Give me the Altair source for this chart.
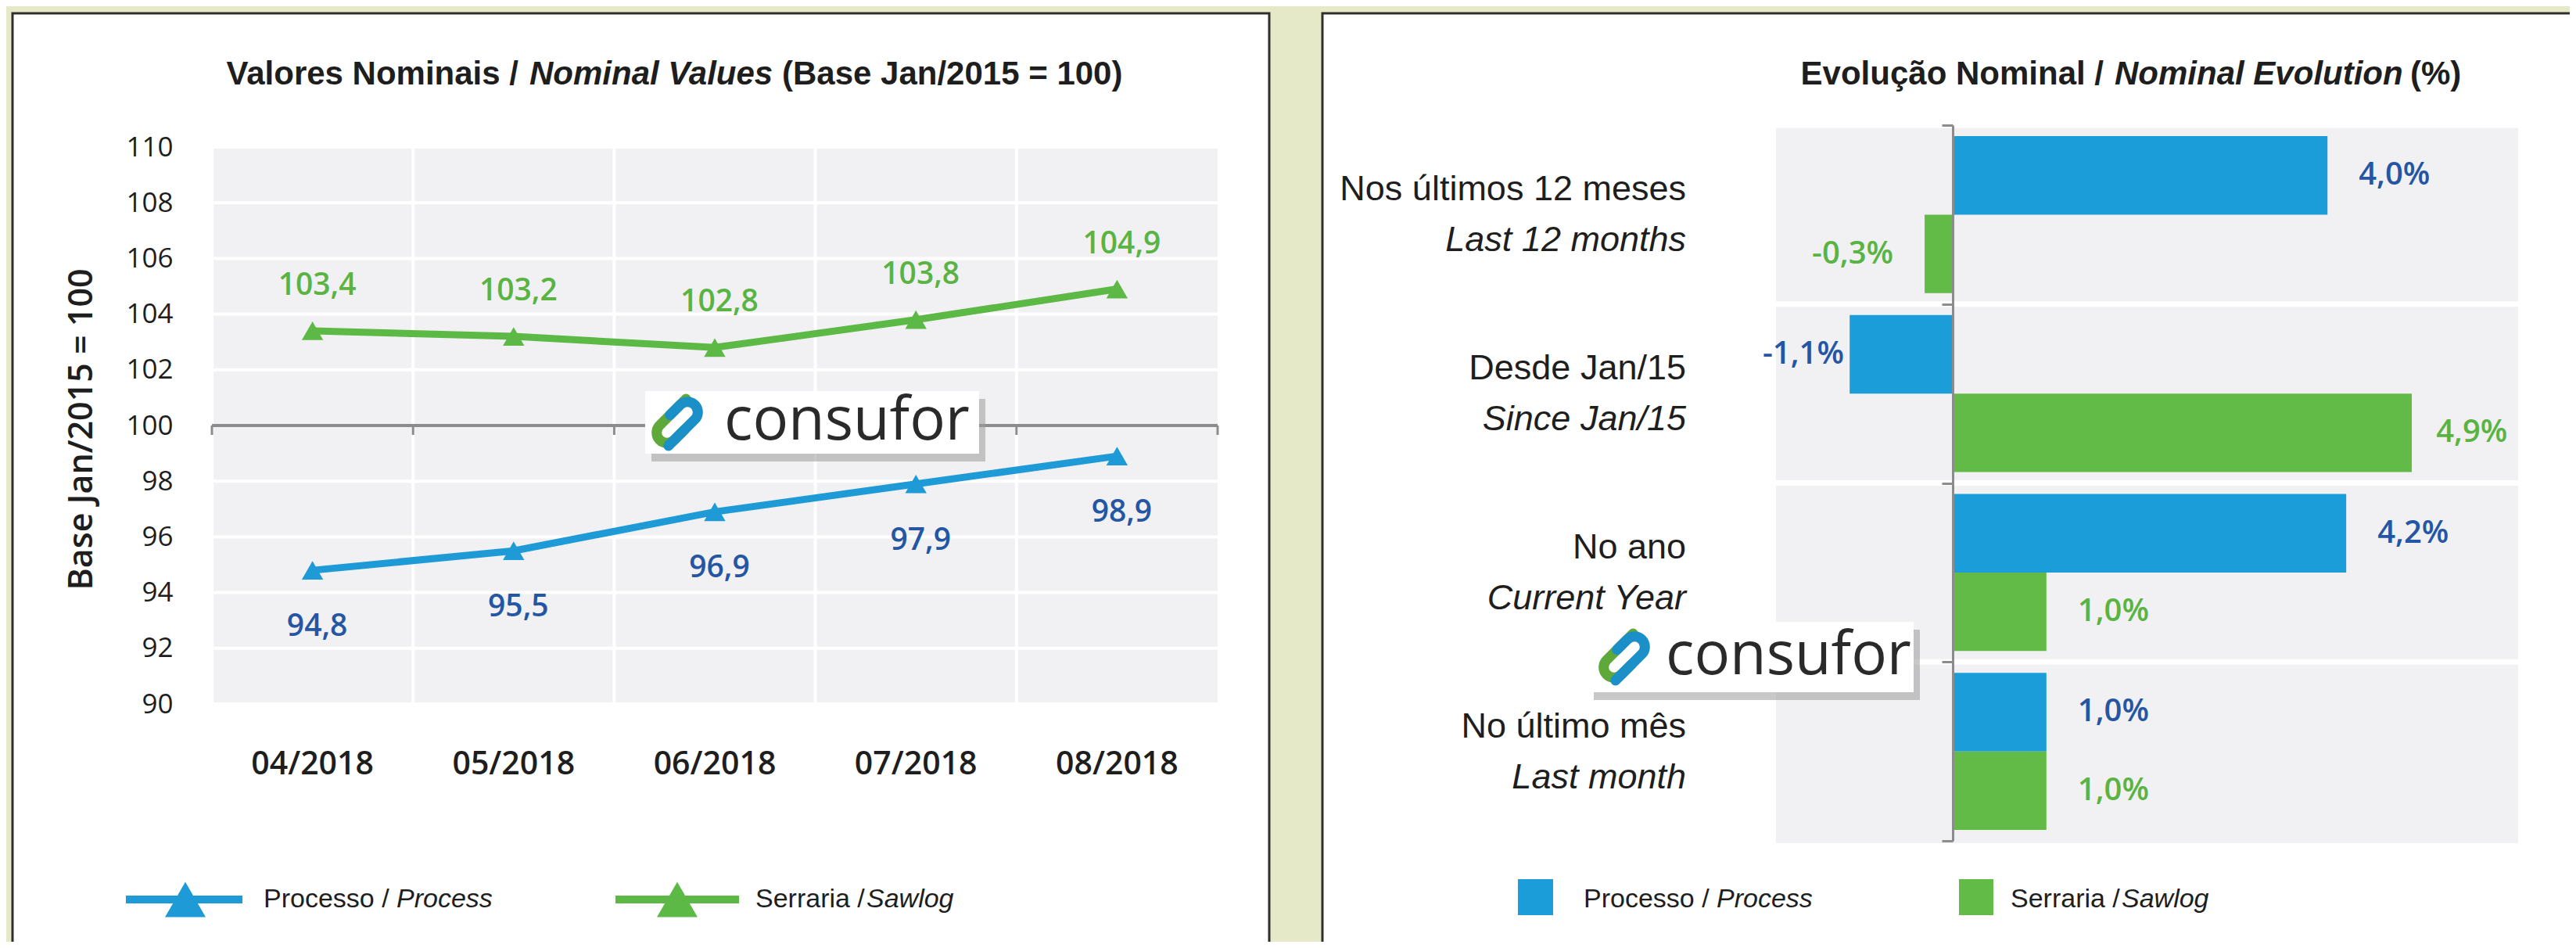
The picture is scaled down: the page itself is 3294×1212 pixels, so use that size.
import altair as alt
import pandas as pd

# ---------------- data ----------------
months = ["04/2018", "05/2018", "06/2018", "07/2018", "08/2018"]
process_index = [94.8, 95.5, 96.9, 97.9, 98.9]
sawlog_index = [103.4, 103.2, 102.8, 103.8, 104.9]
index_ticks = [90, 92, 94, 96, 98, 100, 102, 104, 106, 108, 110]
index_base = [100]

periods_pt = ["Nos últimos 12 meses", "Desde Jan/15", "No ano", "No último mês"]
periods_en = ["Last 12 months", "Since Jan/15", "Current Year", "Last month"]
process_pct = [4.0, -1.1, 4.2, 1.0]
sawlog_pct = [-0.3, 4.9, 1.0, 1.0]

series = ["Processo", "Serraria"]


def br(v, suffix=""):
    return f"{v:.1f}".replace(".", ",") + suffix


line_df = pd.DataFrame({
    "month": months * 2,
    "value": process_index + sawlog_index,
    "series": [series[0]] * len(months) + [series[1]] * len(months),
})
line_df["label"] = [br(v) for v in line_df["value"]]

bar_df = pd.DataFrame({
    "period": periods_pt * 2,
    "pct": process_pct + sawlog_pct,
    "series": [series[0]] * len(periods_pt) + [series[1]] * len(periods_pt),
})
bar_df["label"] = [br(v, "%") for v in bar_df["pct"]]

period_df = pd.DataFrame({"period": periods_pt, "en": periods_en})
tick_df = pd.DataFrame({"t": index_ticks})
base_df = pd.DataFrame({"b": index_base})
month_df = pd.DataFrame({"month": months})
one = pd.DataFrame({"k": [0]})

# ---------------- style ----------------
W, H = 3278, 1196
OX, OY = 8, 8


def px(x):
    return x - OX


def py(y):
    return y - OY


CREAM = "#E6E9C8"
FRAME = "#2E2E2A"
PLOT_BG = "#F1F1F3"
AXG = "#8C8C8C"
BLUE = "#1E9AD6"
GREEN = "#5DB946"
BAR_BLUE = "#1B9DDA"
BAR_GREEN = "#62BB46"
BLUE_TXT = "#2556A4"
GREEN_TXT = "#5AB443"
INK = "#1E1E1E"
SANS = "Liberation Sans, Arial, sans-serif"
NUM = "Open Sans, sans-serif"


def rect(x1, y1, x2, y2, **kw):
    return alt.Chart(one).mark_rect(**kw).encode(
        x=alt.value(px(x1)), x2=alt.value(px(x2)),
        y=alt.value(py(y1)), y2=alt.value(py(y2)))


def txt(s, x, y, **kw):
    kw.setdefault("baseline", "middle")
    kw.setdefault("align", "left")
    kw.setdefault("color", INK)
    return alt.Chart(one).mark_text(text=s, **kw).encode(
        x=alt.value(px(x)), y=alt.value(py(y)))


def hline(x1, x2, y, color, width):
    return alt.Chart(one).mark_rule(color=color, strokeWidth=width).encode(
        x=alt.value(px(x1)), x2=alt.value(px(x2)), y=alt.value(py(y)))


def sym(shape, x, y, size, color, **kw):
    return alt.Chart(one).mark_point(shape=shape, size=size, color=color, opacity=1, **kw).encode(
        x=alt.value(px(x)), y=alt.value(py(y)))


# ---------------- back decorations ----------------
back = alt.layer(
    rect(16, 17, 1623, 1260, fill="white", stroke=FRAME, strokeWidth=3),
    rect(1691, 17, 3320, 1260, fill="white", stroke=FRAME, strokeWidth=3),
    rect(271, 186, 1557, 902, fill=PLOT_BG),
    rect(2271, 160, 3220, 1078, fill=PLOT_BG),
)

# ---------------- left panel ----------------
L_X0, L_X1, L_Y0, L_Y1 = 271, 1557, 188, 900
xL = alt.Scale(type="band", domain=months, range=[px(L_X0), px(L_X1)], paddingInner=0, paddingOuter=0)
yL = alt.Scale(type="linear", domain=[90, 110], range=[py(L_Y1), py(L_Y0)], nice=False, zero=False)

axis_xL = alt.Axis(orient="bottom", offset=py(L_Y1) - H, title=None, domain=False, ticks=False,
                   tickSize=0, grid=False, labelPadding=977 - L_Y1, labelBaseline="middle",
                   labelFont=NUM, labelFontSize=41, labelFontWeight=600, labelColor=INK,
                   labelAngle=0, labelOverlap=False, zindex=1)
axis_yL = alt.Axis(orient="left", offset=-px(L_X0), values=index_ticks, format="d", title=None,
                   domain=False, ticks=False, tickSize=0, grid=False, labelPadding=L_X0 - 221,
                   labelFont=NUM, labelFontSize=35, labelColor=INK, labelOverlap=False, zindex=1)

XL = dict(scale=xL, axis=axis_xL)
YL = dict(scale=yL, axis=axis_yL)
color_line = alt.Color("series:N", scale=alt.Scale(domain=series, range=[BLUE, GREEN]), legend=None)

hgrid = alt.Chart(tick_df).mark_rule(color="white", strokeWidth=4).encode(
    y=alt.Y("t:Q", **YL), x=alt.value(px(L_X0)), x2=alt.value(px(L_X1)))
vgrid = alt.Chart(month_df).mark_rule(color="white", strokeWidth=4).encode(
    x=alt.X("month:N", bandPosition=0, **XL), y=alt.value(py(L_Y0)), y2=alt.value(py(L_Y1)))
base_line = alt.Chart(base_df).mark_rule(color=AXG, strokeWidth=4).encode(
    y=alt.Y("b:Q", **YL), x=alt.value(px(L_X0)), x2=alt.value(px(L_X1)))
base_ticks = alt.Chart(month_df).mark_rule(color=AXG, strokeWidth=3).encode(
    x=alt.X("month:N", bandPosition=0, **XL), y=alt.value(py(544)), y2=alt.value(py(556)))
base_tick_end = alt.Chart(month_df).transform_filter(alt.datum.month == months[-1]).mark_rule(
    color=AXG, strokeWidth=3).encode(
    x=alt.X("month:N", bandPosition=1, **XL), y=alt.value(py(544)), y2=alt.value(py(556)))

lines = alt.Chart(line_df).mark_line(strokeWidth=9).encode(
    x=alt.X("month:N", **XL), y=alt.Y("value:Q", **YL), color=color_line)
points = alt.Chart(line_df).mark_point(shape="triangle-up", filled=True, size=750, opacity=1).encode(
    x=alt.X("month:N", **XL), y=alt.Y("value:Q", **YL), color=color_line)
lab_saw = alt.Chart(line_df).transform_filter(alt.datum.series == series[1]).mark_text(
    dy=-58, dx=6, font=NUM, fontSize=39, fontWeight=600, color=GREEN_TXT, baseline="middle").encode(
    x=alt.X("month:N", **XL), y=alt.Y("value:Q", **YL), text="label:N")
lab_pro = alt.Chart(line_df).transform_filter(alt.datum.series == series[0]).mark_text(
    dy=72, dx=6, font=NUM, fontSize=39, fontWeight=600, color=BLUE_TXT, baseline="middle").encode(
    x=alt.X("month:N", **XL), y=alt.Y("value:Q", **YL), text="label:N")

left = alt.layer(hgrid, vgrid, base_line, base_ticks, base_tick_end, lines, points, lab_saw, lab_pro)

# ---------------- right panel ----------------
ZERO, PPP = 2497, 119.8
R_X0, R_X1, R_Y0, R_Y1 = 2271, 3220, 160, 1075
xR = alt.Scale(domain=[-2, 6], range=[px(ZERO - 2 * PPP), px(ZERO + 6 * PPP)], nice=False, zero=False)
yR = alt.Scale(type="band", domain=periods_pt, range=[py(R_Y0), py(R_Y1)], paddingInner=0, paddingOuter=0)
yOffR = alt.Scale(type="band", domain=series, paddingInner=0, paddingOuter=0.14)
axis_yR = alt.Axis(orient="left", offset=-px(ZERO), title=None, labels=False, grid=False,
                   domain=True, domainColor=AXG, domainWidth=3, ticks=True, tickBand="extent",
                   tickSize=14, tickWidth=3, tickColor=AXG, zindex=1)
YR = dict(scale=yR, axis=axis_yR)
XR = dict(scale=xR, axis=None)
OFF = alt.YOffset("series:N", scale=yOffR)
tcolor = f"datum.series == '{series[0]}' ? '{BLUE_TXT}' : '{GREEN_TXT}'"
# value labels sit ~40px outside the bar end but are kept inside the plot area
GAP = 40 / PPP

rgrid = alt.Chart(period_df).mark_rule(color="white", strokeWidth=7).encode(
    y=alt.Y("period:N", bandPosition=0, **YR), x=alt.value(px(R_X0)), x2=alt.value(px(R_X1)))
bars = alt.Chart(bar_df).mark_bar().encode(
    x=alt.X("pct:Q", **XR), y=alt.Y("period:N", **YR), yOffset=OFF,
    color=alt.Color("series:N", scale=alt.Scale(domain=series, range=[BAR_BLUE, BAR_GREEN]), legend=None))
vpos = alt.Chart(bar_df).transform_filter("datum.pct >= 0").transform_calculate(
    tc=tcolor, lx=f"min(datum.pct + {GAP}, 5.16)").mark_text(
    align="left", baseline="middle", font=NUM, fontSize=40, fontWeight=600).encode(
    x=alt.X("lx:Q", **XR), y=alt.Y("period:N", **YR), yOffset=OFF, text="label:N",
    color=alt.Color("tc:N", scale=None))
vneg = alt.Chart(bar_df).transform_filter("datum.pct < 0").transform_calculate(
    tc=tcolor, lx=f"max(datum.pct - {GAP}, -1.16)").mark_text(
    align="right", baseline="middle", font=NUM, fontSize=40, fontWeight=600).encode(
    x=alt.X("lx:Q", **XR), y=alt.Y("period:N", **YR), yOffset=OFF, text="label:N",
    color=alt.Color("tc:N", scale=None))
CAT_X = 2156
cat_pt = alt.Chart(period_df).mark_text(align="right", baseline="middle", dy=-32, font=SANS,
                                        fontSize=45, color=INK).encode(
    y=alt.Y("period:N", **YR), x=alt.value(px(CAT_X)), text="period:N")
cat_en = alt.Chart(period_df).mark_text(align="right", baseline="middle", dy=33, font=SANS,
                                        fontSize=45, fontStyle="italic", color=INK).encode(
    y=alt.Y("period:N", **YR), x=alt.value(px(CAT_X)), text="en:N")

right = alt.layer(rgrid, bars, vpos, vneg, cat_pt, cat_en)

# ---------------- front decorations ----------------
TY = 95
LY = 1150
GREEN_PATH = "M 0.3 -0.8 L -0.6 0.1 A 0.33 0.33 0 0 0 -0.1 0.6 L 0.25 0.25"
BLUE_PATH = "M -0.3 0.8 L 0.6 -0.1 A 0.33 0.33 0 0 0 0.1 -0.6 L -0.25 -0.25"


def logo(x1, y1, x2, y2, tx, ty, ix, iy):
    return [
        rect(x1 + 8, y1 + 10, x2 + 8, y2 + 10, fill="#9a9a9a", opacity=0.55),
        rect(x1, y1, x2, y2, fill="white"),
        sym(GREEN_PATH, ix, iy, 5600, "#5FA83A", filled=False, strokeWidth=13, strokeCap="round"),
        sym(BLUE_PATH, ix, iy, 5600, "#1B8FC7", filled=False, strokeWidth=13, strokeCap="round"),
        txt("consufor", tx, ty, font=NUM, fontSize=76, color="#2A2A2A", baseline="alphabetic"),
    ]


LEG = dict(font=SANS, fontSize=34)
TT = dict(font=SANS, fontSize=42, fontWeight="bold")
front = alt.layer(
    # left title
    txt("Valores Nominais /", 663, TY, align="right", **TT),
    txt("Nominal Values", 677, TY, fontStyle="italic", **TT),
    txt("(Base Jan/2015 = 100)", 1000, TY, **TT),
    # right title
    txt("Evolução Nominal /", 2690, TY, align="right", **TT),
    txt("Nominal Evolution", 2704, TY, fontStyle="italic", **TT),
    txt("(%)", 3082, TY, **TT),
    # left y title
    txt("Base Jan/2015 = 100", 105, 549, align="center", angle=270, font=NUM, fontSize=43, fontWeight=600),
    # left legend
    hline(161, 310, LY, BLUE, 10),
    sym("triangle-up", 237, LY, 2700, BLUE, filled=True),
    txt("Processo /", 337, LY, **LEG),
    txt("Process", 507, LY, fontStyle="italic", **LEG),
    hline(787, 945, LY, GREEN, 10),
    sym("triangle-up", 866, LY, 2700, GREEN, filled=True),
    txt("Serraria /", 966, LY, **LEG),
    txt("Sawlog", 1108, LY, fontStyle="italic", **LEG),
    # right legend
    rect(1941, 1124, 1986, 1170, fill=BAR_BLUE),
    txt("Processo /", 2025, LY, **LEG),
    txt("Process", 2195, LY, fontStyle="italic", **LEG),
    rect(2505, 1124, 2549, 1170, fill=BAR_GREEN),
    txt("Serraria /", 2571, LY, **LEG),
    txt("Sawlog", 2713, LY, fontStyle="italic", **LEG),
    *logo(825, 500, 1252, 580, 926, 562, 866, 540),
    *logo(2030, 795, 2447, 885, 2130, 862, 2077, 840),
)

chart = alt.layer(back, left, right, front).resolve_scale(
    x="independent", y="independent", color="independent", yOffset="independent"
).properties(
    width=W, height=H, padding=0, autosize=alt.AutoSizeParams(type="none"), background=CREAM
).configure_view(strokeWidth=0)

chart.save("out.html", embed_options={"renderer": "svg", "actions": False})
